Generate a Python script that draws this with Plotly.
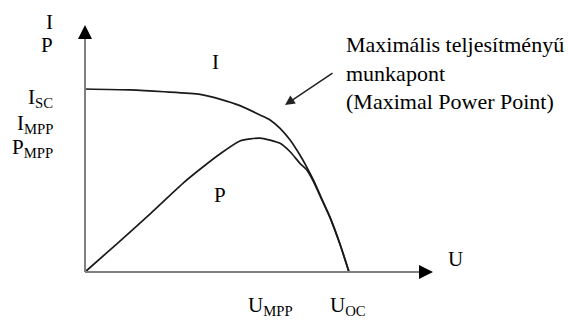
import plotly.graph_objects as go

# I-U and P-U curves of a solar cell, normalised (U_OC = 1, I_SC = 1)
u_current = [0, 0.17, 0.30, 0.436, 0.511, 0.587, 0.663, 0.701, 0.739, 0.777, 0.814, 0.839, 0.865, 0.896,
             0.928, 0.966, 1.0]
current = [1.0, 0.995, 0.985, 0.971, 0.945, 0.909, 0.858, 0.831, 0.785, 0.721, 0.639, 0.576, 0.503, 0.403,
           0.30, 0.153, 0.0]
u_power = [0, 0.123, 0.249, 0.375, 0.45, 0.511, 0.587, 0.663, 0.701, 0.739, 0.777, 0.814, 0.839, 0.865,
           0.896, 0.928, 0.966, 1.0]
power = [0, 0.157, 0.321, 0.49, 0.578, 0.645, 0.716, 0.732, 0.721, 0.703, 0.657, 0.594, 0.56, 0.495,
         0.398, 0.297, 0.15, 0]

y_labels = ["I<sub>SC</sub>", "I<sub>MPP</sub>", "P<sub>MPP</sub>"]
x_labels = ["U<sub>MPP</sub>", "U<sub>OC</sub>"]
note = "Maximális teljesítményű<br>munkapont<br>(Maximal Power Point)"

W, H = 568, 321
X0, Y0 = 85, 272      # origin in pixels
SX, SY = 264, 183     # pixels per unit


def px(x):
    return (x - X0) / SX


def py(y):
    return (Y0 - y) / SY


FONT = dict(family="Liberation Serif, DejaVu Serif, serif", size=21, color="black")
LINE = dict(color="#1a1a1a", width=1.7, shape="spline", smoothing=0.6)

fig = go.Figure()
fig.add_trace(go.Scatter(x=u_current, y=current, mode="lines", line=LINE, name="I"))
fig.add_trace(go.Scatter(x=u_power, y=power, mode="lines", line=LINE, name="P"))

# axes drawn by hand (gray shaft, black head)
fig.add_shape(type="line", x0=0, y0=0, x1=0, y1=py(34), line=dict(color="#808080", width=2))
fig.add_shape(type="line", x0=0, y0=0, x1=px(424), y1=0, line=dict(color="#808080", width=2))
fig.add_annotation(x=0, y=py(25), ax=0, ay=py(36), xref="x", yref="y", axref="x", ayref="y",
                   text="", showarrow=True, arrowhead=2, arrowsize=1.4, arrowwidth=2, arrowcolor="black")
fig.add_annotation(x=px(433), y=0, ax=px(421), ay=0, xref="x", yref="y", axref="x", ayref="y",
                   text="", showarrow=True, arrowhead=2, arrowsize=1.4, arrowwidth=2, arrowcolor="black")

# axis names
fig.add_annotation(x=px(55), y=py(22), text="I", showarrow=False, xanchor="right", font=FONT)
fig.add_annotation(x=px(55), y=py(45), text="P", showarrow=False, xanchor="right", font=FONT)
fig.add_annotation(x=px(455), y=py(259), text="U", showarrow=False, font=FONT)

# stacked tick labels on the left
for lab, ypix in zip(y_labels, [98, 124, 148]):
    fig.add_annotation(x=px(55), y=py(ypix), text=lab, showarrow=False, xanchor="right", font=FONT)
# tick labels below the U axis
for lab, xpix in zip(x_labels, [270, 348]):
    fig.add_annotation(x=px(xpix), y=py(306), text=lab, showarrow=False, font=FONT)

# curve names
fig.add_annotation(x=px(215), y=py(62), text="I", showarrow=False, font=FONT)
fig.add_annotation(x=px(220), y=py(195), text="P", showarrow=False, font=FONT)

# MPP note with arrow
fig.add_annotation(x=px(344), y=py(30), text=note, showarrow=False, xanchor="left", yanchor="top",
                   align="left", font=dict(FONT, size=22))
fig.add_annotation(x=px(285), y=py(105), ax=px(334), ay=py(72), xref="x", yref="y", axref="x", ayref="y",
                   text="", showarrow=True, arrowhead=2, arrowsize=1.3, arrowwidth=1.5, arrowcolor="#222")

fig.update_layout(
    width=W, height=H,
    margin=dict(l=0, r=0, t=0, b=0),
    paper_bgcolor="white", plot_bgcolor="white",
    showlegend=False,
    xaxis=dict(range=[px(0), px(W)], visible=False, fixedrange=True),
    yaxis=dict(range=[py(H), py(0)], visible=False, fixedrange=True),
)

# drop the default page margin so the figure sits at the window corner
fig.write_html("out.html", config={"displayModeBar": False},
               post_script="document.body.style.margin='0';document.body.style.overflow='hidden';")
